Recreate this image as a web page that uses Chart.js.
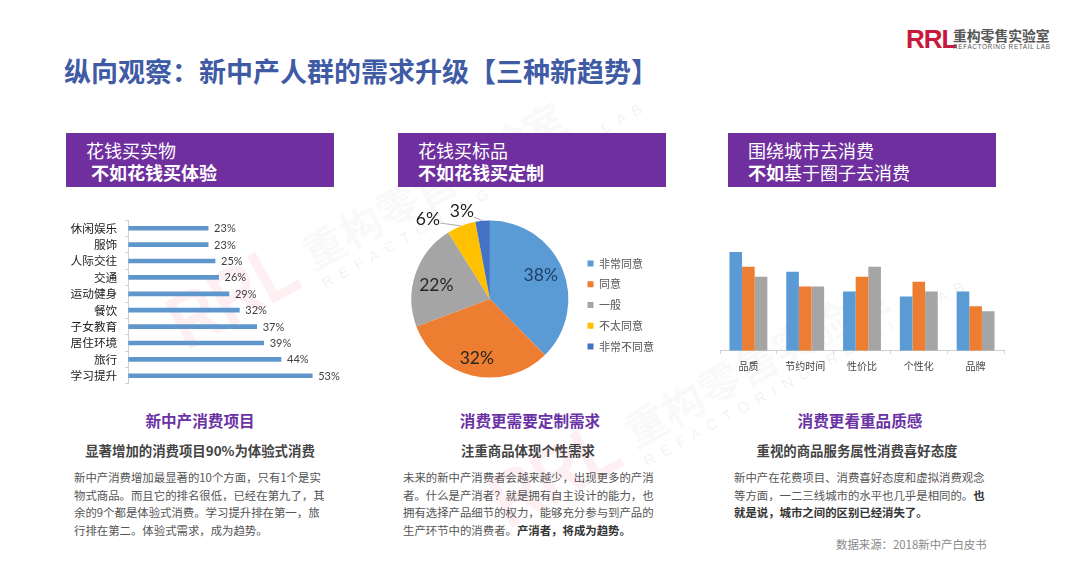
<!DOCTYPE html>
<html lang="zh"><head><meta charset="utf-8">
<script src="https://cdn.jsdelivr.net/npm/chart.js@4"></script>
<style>
html,body{margin:0;padding:0;background:#fff;width:1080px;height:569px;overflow:hidden}
body{position:relative;font-family:"Noto Sans CJK SC","Noto Sans",sans-serif}
.t{position:absolute;white-space:nowrap}
.band{position:absolute;top:133px;width:268px;height:54px;background:#6f2f9e}
.band div{position:absolute;white-space:nowrap;color:#fff;font-size:18px;line-height:22px}
.h{font-size:15.6px;font-weight:700;color:#6a32a5;line-height:20px;text-align:center}
.s{font-size:13.4px;font-weight:700;color:#444;line-height:18px;text-align:center}
.b{font-size:11.4px;color:#555;line-height:17.7px}
b{font-weight:700;color:#333}
canvas{position:absolute;display:block}
.wm{position:absolute;transform-origin:0 0;transform:rotate(-29deg);white-space:nowrap}
.wm .a{position:absolute;left:0;top:-8px;font:700 78px/80px "Liberation Sans",sans-serif;color:rgba(226,30,70,.07);transform-origin:0 50%;transform:scaleX(.84)}
.wm .c{position:absolute;left:150px;top:2px;font:700 42px/60px "Noto Sans CJK SC",sans-serif;color:rgba(90,90,90,.055)}
.wm .e{position:absolute;left:152px;top:56px;font:400 15px/20px "Liberation Sans",sans-serif;letter-spacing:8px;color:rgba(90,90,90,.09)}
</style></head><body>
<div class="wm" style="left:158px;top:300px"><span class="a">RRL</span><span class="c">重构零售实验室</span><span class="e">REFACTORING RETAIL LAB</span></div>
<div class="wm" style="left:480px;top:478px"><span class="a">RRL</span><span class="c">重构零售实验室</span><span class="e">REFACTORING RETAIL LAB</span></div>

<div class="t" style="left:64px;top:51px;font-size:27px;font-weight:700;line-height:40px;color:#3f5ba5">纵向观察：新中产人群的需求升级【三种新趋势】</div>

<div class="t" style="left:906px;top:24px;font:700 26px/30px 'Liberation Sans',sans-serif;color:#c8193c;letter-spacing:-1px">RRL</div>
<div class="t" style="left:953px;top:26px;font-size:13.8px;font-weight:700;line-height:18px;color:#555">重构零售实验室</div>
<div class="t" style="left:953px;top:42px;font:400 6.4px/10px 'Liberation Sans',sans-serif;letter-spacing:0.65px;color:#555">REFACTORING RETAIL LAB</div>

<div class="band" style="left:66px"><div style="left:20px;top:6px">花钱买实物</div><div style="left:25px;top:28px;font-weight:700">不如花钱买体验</div></div>
<div class="band" style="left:398px"><div style="left:20px;top:6px">花钱买标品</div><div style="left:20px;top:28px;font-weight:700">不如花钱买定制</div></div>
<div class="band" style="left:728px"><div style="left:20px;top:6px">围绕城市去消费</div><div style="left:20px;top:28px"><span style="font-weight:700">不如</span>基于圈子去消费</div></div>

<canvas id="barChart" width="290" height="194" style="left:60px;top:205px"></canvas>
<canvas id="pieChart" width="262" height="200" style="left:402px;top:199px"></canvas>
<canvas id="colChart" width="304" height="150" style="left:710px;top:230px"></canvas>

<div class="t h" style="left:70px;width:260px;top:410px">新中产消费项目</div>
<div class="t h" style="left:400px;width:260px;top:410px">消费更需要定制需求</div>
<div class="t h" style="left:730px;width:260px;top:410px">消费更看重品质感</div>
<div class="t s" style="left:70px;width:260px;top:441px">显著增加的消费项目90%为体验式消费</div>
<div class="t s" style="left:398px;width:260px;top:441px">注重商品体现个性需求</div>
<div class="t s" style="left:727px;width:260px;top:441px">重视的商品服务属性消费喜好态度</div>

<div class="t b" style="left:74px;top:469px">新中产消费增加最显著的10个方面，只有1个是实<br>物式商品。而且它的排名很低，已经在第九了，其<br>余的9个都是体验式消费。学习提升排在第一，旅<br>行排在第二。体验式需求，成为趋势。</div>
<div class="t b" style="left:403px;top:469px">未来的新中产消费者会越来越少，出现更多的产消<br>者。什么是产消者？就是拥有自主设计的能力，也<br>拥有选择产品细节的权力，能够充分参与到产品的<br>生产环节中的消费者。<b>产消者，将成为趋势。</b></div>
<div class="t b" style="left:734px;top:469px">新中产在花费项目、消费喜好态度和虚拟消费观念<br>等方面，一二三线城市的水平也几乎是相同的。<b>也</b><br><b>就是说，城市之间的区别已经消失了。</b></div>
<div class="t" style="left:836px;top:535px;font-size:11.4px;line-height:18px;color:#888">数据来源：2018新中产白皮书</div>

<script>
const barCategories = ["休闲娱乐","服饰","人际交往","交通","运动健身","餐饮","子女教育","居住环境","旅行","学习提升"];
const barValues = [23,23,25,26,29,32,37,39,44,53];
const pieCategories = ["非常同意","同意","一般","不太同意","非常不同意"];
const pieValues = [38,32,22,6,3];
const colCategories = ["品质","节约时间","性价比","个性化","品牌"];
const colSeriesA = [20,16,12,11,12];
const colSeriesB = [17,13,15,14,9];
const colSeriesC = [15,13,17,12,8];

const BLUE="#5b9bd5",ORANGE="#ed7d31",GRAY="#a5a5a5",YELLOW="#ffc000",DARK="#4472c4";
Chart.defaults.animation=false;
Chart.defaults.responsive=false;
Chart.defaults.font.family='"Noto Sans CJK SC","Noto Sans",sans-serif';

const barValueLabels={id:"barValueLabels",afterDatasetsDraw(c){
  const x=c.ctx;x.save();x.font='11px Lato,sans-serif';x.fillStyle="#404040";x.textBaseline="middle";
  c.getDatasetMeta(0).data.forEach((el,i)=>x.fillText(barValues[i]+"%",el.x+6,el.y+0.5));
  x.restore();}};

new Chart(document.getElementById("barChart"),{type:"bar",plugins:[barValueLabels],
 data:{labels:barCategories,datasets:[{data:barValues,backgroundColor:"#5f97cc",barThickness:4}]},
 options:{indexAxis:"y",layout:{padding:{top:5.5,bottom:7.5,right:10,left:0}},
  plugins:{legend:{display:false},tooltip:{enabled:false}},
  scales:{x:{display:false,min:0,max:61},
   y:{afterFit(s){s.width=68.3},border:{color:"#d0d0d0"},
      grid:{drawOnChartArea:false,color:"#d0d0d0",tickLength:3},
      ticks:{color:"#222",padding:8,font:{size:11.7},autoSkip:false}}}}});

const insideFactor=[0.7,0.77,0.72];
const insideNudgeY=[-3,0,4];
const outerOffset={3:[-62,-80],4:[-28,-88]};
const pieLabels={id:"pieLabels",afterDatasetsDraw(c){
  const x=c.ctx;x.save();x.font='17.5px Lato,sans-serif';x.textAlign="center";x.textBaseline="middle";
  c.getDatasetMeta(0).data.forEach((el,i)=>{
    const mid=(el.startAngle+el.endAngle)/2,txt=pieValues[i]+"%";
    if(outerOffset[i]){
      const [dx,dy]=outerOffset[i],ex=el.x+Math.cos(mid)*el.outerRadius,ey=el.y+Math.sin(mid)*el.outerRadius;
      x.strokeStyle="#999";x.lineWidth=0.8;x.beginPath();
      x.moveTo(el.x+dx+12,el.y+dy+(i===3?4:6));x.lineTo(ex,ey);x.stroke();
      x.fillStyle="#222";x.fillText(txt,el.x+dx,el.y+dy);
    }else{
      const r=el.outerRadius*insideFactor[i];
      x.fillStyle=i===0?"#1f3f66":"#262626";
      x.fillText(txt,el.x+Math.cos(mid)*r,el.y+Math.sin(mid)*r+insideNudgeY[i]);
    }});
  x.restore();}};

new Chart(document.getElementById("pieChart"),{type:"pie",plugins:[pieLabels],
 data:{labels:pieCategories,datasets:[{data:pieValues,backgroundColor:[BLUE,ORANGE,GRAY,YELLOW,DARK],borderWidth:0,radius:78.5}]},
 options:{plugins:{tooltip:{enabled:false},
  legend:{position:"right",title:{display:true,text:" ",font:{size:10},padding:0},
   labels:{boxWidth:6,boxHeight:6,padding:9.7,color:"#555",font:{size:11}}}}}});

new Chart(document.getElementById("colChart"),{type:"bar",
 data:{labels:colCategories,datasets:[
  {data:colSeriesA,backgroundColor:BLUE},
  {data:colSeriesB,backgroundColor:ORANGE},
  {data:colSeriesC,backgroundColor:GRAY}]},
 options:{layout:{padding:{top:12.2,left:10,right:10,bottom:0}},
  datasets:{bar:{categoryPercentage:0.667,barPercentage:1}},
  plugins:{legend:{display:false},tooltip:{enabled:false}},
  scales:{y:{display:false,min:0,max:22},
   x:{afterFit(s){s.height=29.3},border:{color:"#d0d0d0"},
      grid:{drawOnChartArea:false,color:"#d0d0d0",tickLength:3},
      ticks:{color:"#444",padding:7,font:{size:10},maxRotation:0,autoSkip:false}}}}});
</script>
</body></html>
